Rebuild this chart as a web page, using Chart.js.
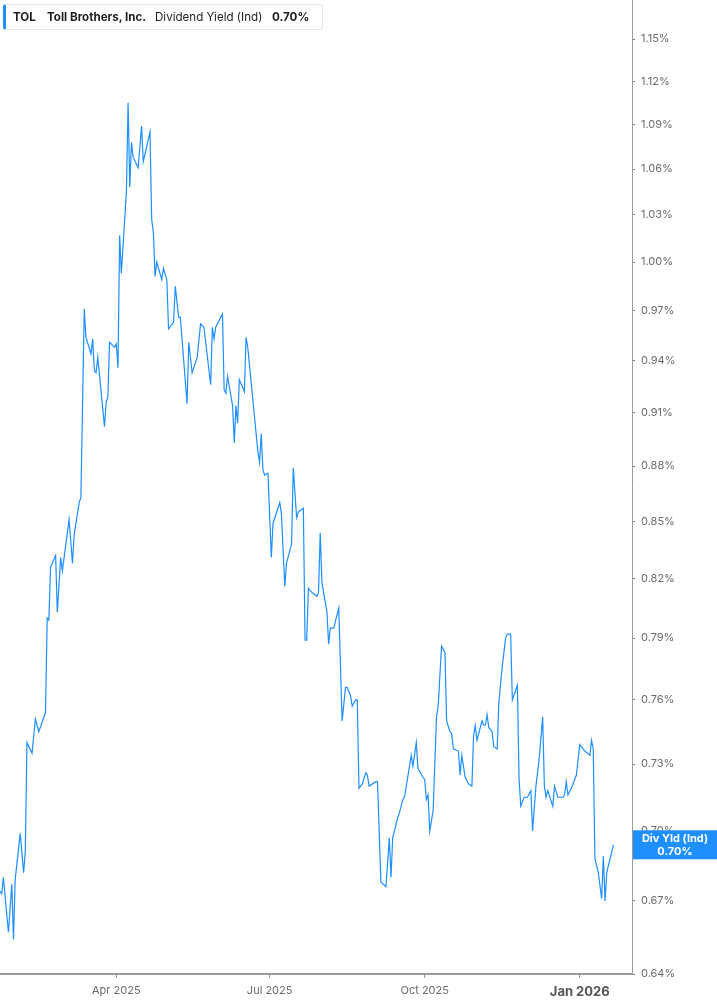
<!DOCTYPE html>
<html>
<head>
<meta charset="utf-8">
<script src="https://cdn.jsdelivr.net/npm/chart.js@4/dist/chart.umd.min.js"></script>
<style>
  html, body { margin: 0; padding: 0; background: #fff; }
  #wrap { position: relative; width: 717px; height: 1005px; }
  #legend {
    position: absolute; left: 3px; top: 4px; width: 320px; height: 26px;
    border: 1px solid #e6e6e6; border-left: 3px solid #1e8fff; border-radius: 3px;
    background: #fff; font-family: Inter, "Noto Sans", sans-serif; font-size: 11.6px;
    color: #1f1f1f; line-height: 24px; white-space: nowrap; box-sizing: border-box;
  }
  #legend span { position: absolute; top: 0; }
  #legend b { font-weight: 700; }
</style>
</head>
<body>
<div id="wrap">
  <canvas id="chart"></canvas>
  <div id="legend">
    <span style="left:7px"><b>TOL</b></span>
    <span style="left:41px"><b>Toll Brothers, Inc.</b></span>
    <span style="left:149px">Dividend Yield (Ind)</span>
    <span id="legendValue" style="left:266px"><b></b></span>
  </div>
</div>
<script>
// Dividend yield (Ind), %
const dates = [
  "2025-01-22","2025-01-23","2025-01-24","2025-01-27","2025-01-29","2025-01-30","2025-01-31",
  "2025-02-03","2025-02-05","2025-02-06","2025-02-07","2025-02-10","2025-02-12","2025-02-14",
  "2025-02-18","2025-02-19","2025-02-20","2025-02-21","2025-02-24","2025-02-25","2025-02-27",
  "2025-02-28","2025-03-04","2025-03-06","2025-03-07","2025-03-10","2025-03-11","2025-03-13",
  "2025-03-14","2025-03-17","2025-03-18","2025-03-19","2025-03-20","2025-03-21","2025-03-25",
  "2025-03-26","2025-03-27","2025-03-28","2025-03-31","2025-04-01","2025-04-02","2025-04-03",
  "2025-04-04","2025-04-07","2025-04-08","2025-04-09","2025-04-10","2025-04-11","2025-04-14",
  "2025-04-16","2025-04-17","2025-04-21","2025-04-22","2025-04-23","2025-04-24","2025-04-25",
  "2025-04-28","2025-04-29","2025-05-01","2025-05-02","2025-05-05","2025-05-06","2025-05-08",
  "2025-05-09","2025-05-13","2025-05-14","2025-05-16","2025-05-19","2025-05-21","2025-05-23",
  "2025-05-27","2025-05-28","2025-05-29","2025-05-30","2025-06-03","2025-06-04","2025-06-05",
  "2025-06-06","2025-06-09","2025-06-10","2025-06-11","2025-06-12","2025-06-13","2025-06-16",
  "2025-06-17","2025-06-18","2025-06-24","2025-06-25","2025-06-26","2025-06-27","2025-06-28",
  "2025-06-30","2025-07-02","2025-07-03","2025-07-07","2025-07-08","2025-07-10","2025-07-11",
  "2025-07-14","2025-07-15","2025-07-17","2025-07-18","2025-07-21","2025-07-22","2025-07-23",
  "2025-07-24","2025-07-26","2025-07-29","2025-07-30","2025-07-31","2025-08-01","2025-08-04",
  "2025-08-05","2025-08-06","2025-08-08","2025-08-11","2025-08-13","2025-08-15","2025-08-16",
  "2025-08-18","2025-08-19","2025-08-21","2025-08-22","2025-08-23","2025-08-25","2025-08-27",
  "2025-08-28","2025-08-29","2025-09-02","2025-09-03","2025-09-05","2025-09-08","2025-09-10",
  "2025-09-11","2025-09-12","2025-09-15","2025-09-16","2025-09-18","2025-09-19","2025-09-23",
  "2025-09-24","2025-09-26","2025-09-27","2025-09-30","2025-10-01","2025-10-02","2025-10-03",
  "2025-10-04","2025-10-06","2025-10-08","2025-10-09","2025-10-11","2025-10-13","2025-10-14",
  "2025-10-16","2025-10-17","2025-10-18","2025-10-21","2025-10-22","2025-10-23","2025-10-25",
  "2025-10-27","2025-10-29","2025-10-30","2025-10-31","2025-11-01","2025-11-04","2025-11-05",
  "2025-11-06","2025-11-07","2025-11-08","2025-11-10","2025-11-11","2025-11-13","2025-11-14",
  "2025-11-16","2025-11-18","2025-11-19","2025-11-21","2025-11-22","2025-11-25","2025-11-26",
  "2025-11-27","2025-11-29","2025-12-01","2025-12-03","2025-12-04","2025-12-06","2025-12-08",
  "2025-12-10","2025-12-11","2025-12-12","2025-12-13","2025-12-16","2025-12-17","2025-12-19",
  "2025-12-22","2025-12-23","2025-12-24","2025-12-25","2025-12-27","2025-12-30","2026-01-01",
  "2026-01-04","2026-01-07","2026-01-08","2026-01-09","2026-01-10","2026-01-12","2026-01-14",
  "2026-01-15","2026-01-16","2026-01-17","2026-01-21"
];
const yieldPct = [
  0.674,0.673,0.680,0.657,0.677,0.654,0.679,
  0.699,0.682,0.691,0.740,0.735,0.751,0.745,
  0.754,0.800,0.799,0.826,0.832,0.803,0.831,
  0.824,0.851,0.828,0.843,0.860,0.863,0.971,
  0.954,0.944,0.953,0.934,0.933,0.942,0.902,
  0.916,0.919,0.951,0.948,0.950,0.936,1.017,
  0.993,1.045,1.105,1.048,1.078,1.068,1.061,
  1.089,1.065,1.085,1.027,1.019,0.991,1.000,
  0.989,0.996,0.989,0.959,0.963,0.985,0.966,
  0.966,0.915,0.951,0.933,0.942,0.962,0.960,
  0.926,0.960,0.953,0.960,0.968,0.923,0.921,
  0.931,0.914,0.893,0.914,0.904,0.929,0.922,
  0.954,0.948,0.888,0.882,0.898,0.878,0.875,
  0.876,0.831,0.849,0.860,0.854,0.816,0.828,
  0.838,0.879,0.852,0.855,0.857,0.789,0.789,
  0.815,0.813,0.811,0.813,0.844,0.818,0.803,
  0.787,0.795,0.795,0.805,0.750,0.766,0.766,
  0.762,0.757,0.760,0.760,0.719,0.721,0.726,
  0.725,0.720,0.722,0.722,0.678,0.676,0.697,
  0.680,0.697,0.706,0.708,0.714,0.715,0.734,
  0.729,0.740,0.728,0.724,0.723,0.714,0.716,
  0.700,0.709,0.752,0.757,0.786,0.783,0.750,
  0.745,0.744,0.737,0.736,0.725,0.734,0.724,
  0.721,0.720,0.743,0.748,0.741,0.750,0.748,
  0.748,0.753,0.747,0.745,0.738,0.737,0.759,
  0.776,0.790,0.792,0.792,0.760,0.767,0.723,
  0.711,0.715,0.715,0.718,0.700,0.720,0.733,
  0.752,0.720,0.715,0.718,0.711,0.720,0.715,
  0.715,0.716,0.722,0.716,0.719,0.725,0.739,
  0.736,0.734,0.741,0.737,0.688,0.682,0.671,
  0.689,0.670,0.682,0.694
];
const currentYield = 0.70;
const yTicks = [0.64, 0.67, 0.70, 0.73, 0.76, 0.79, 0.82, 0.85, 0.88, 0.91, 0.94, 0.97, 1.00, 1.03, 1.06, 1.09, 1.12, 1.15];
const xTickDates = ["2025-04-01", "2025-07-01", "2025-10-01", "2026-01-01"];
const xTickLabels = ["Apr 2025", "Jul 2025", "Oct 2025", "Jan 2026"];
const xStart = "2025-01-22";
const xEnd = "2026-02-01";
const yMin = 0.64;
const yMax = 1.1786;

// day number counted from 2025-01-01
function dayNum(s) {
  const p = s.split("-").map(Number);
  return (Date.UTC(p[0], p[1] - 1, p[2]) - Date.UTC(2025, 0, 1)) / 86400000;
}

const points = dates.map((d, i) => ({ x: dayNum(d), y: yieldPct[i] }));
const xTickDays = xTickDates.map(dayNum);

document.querySelector("#legendValue b").textContent = currentYield.toFixed(2) + "%";

const LINE_BLUE = "#1e8fff";
const AXIS_GREY = "#9a9a9a";

// value tag on the right axis
const lastValueTag = {
  id: "lastValueTag",
  afterDraw(chart) {
    const ctx = chart.ctx;
    const yScale = chart.scales.y;
    const last = yieldPct[yieldPct.length - 1];
    const y = yScale.getPixelForValue(last);
    const left = chart.chartArea.right + 1;
    const w = chart.width - left;
    const h = 29;
    ctx.save();
    ctx.fillStyle = LINE_BLUE;
    ctx.fillRect(left, y - h / 2, w, h);
    ctx.fillStyle = "#fff";
    ctx.textAlign = "center";
    ctx.textBaseline = "middle";
    ctx.font = "bold 11px Inter, 'Noto Sans', sans-serif";
    ctx.fillText("Div Yld (Ind)", left + w / 2, y - 6);
    ctx.fillText(currentYield.toFixed(2) + "%", left + w / 2, y + 7);
    ctx.restore();
  }
};

const ctx = document.getElementById("chart");
ctx.width = 717;
ctx.height = 1005;

new Chart(ctx, {
  type: "line",
  data: {
    datasets: [
      {
        label: "Div Yld (Ind)",
        data: points,
        borderColor: LINE_BLUE,
        borderWidth: 1.2,
        pointRadius: 0,
        tension: 0,
        fill: false,
      },
    ],
  },
  options: {
    responsive: false,
    animation: false,
    layout: { padding: 0 },
    plugins: {
      legend: { display: false },
      tooltip: { enabled: false },
    },
    scales: {
      x: {
        type: "linear",
        min: dayNum(xStart),
        max: dayNum(xEnd),
        border: { display: true, color: AXIS_GREY, width: 2 },
        grid: { display: true, drawOnChartArea: false, drawTicks: true, tickLength: 4, color: AXIS_GREY },
        afterBuildTicks(scale) {
          scale.ticks = xTickDays.map((v) => ({ value: v }));
        },
        afterFit(scale) {
          scale.height = 31;
          scale.paddingLeft = 0;
          scale.paddingRight = 0;
        },
        ticks: {
          autoSkip: false,
          maxRotation: 0,
          padding: 6,
          callback: (v) => xTickLabels[xTickDays.indexOf(v)],
          color: (c) => (c.tick && c.tick.value === xTickDays[3] ? "#555" : "#6b6b6b"),
          font: (c) =>
            c.tick && c.tick.value === xTickDays[3]
              ? { family: "Inter, 'Noto Sans', sans-serif", size: 13, weight: "bold" }
              : { family: "Inter, 'Noto Sans', sans-serif", size: 11 },
        },
      },
      y: {
        type: "logarithmic",
        position: "right",
        min: yMin,
        max: yMax,
        border: { display: true, color: AXIS_GREY, width: 1 },
        grid: { display: true, drawOnChartArea: false, drawTicks: true, tickLength: 3, color: "#777" },
        afterBuildTicks(scale) {
          scale.ticks = yTicks.map((v) => ({ value: v }));
        },
        afterFit(scale) {
          scale.width = 85;
          scale.paddingTop = 0;
          scale.paddingBottom = 0;
        },
        ticks: {
          autoSkip: false,
          padding: 6,
          color: "#6b6b6b",
          font: { family: "Inter, 'Noto Sans', sans-serif", size: 11 },
          callback: (v) => Number(v).toFixed(2) + "%",
        },
      },
    },
  },
  plugins: [lastValueTag],
});
</script>
</body>
</html>
